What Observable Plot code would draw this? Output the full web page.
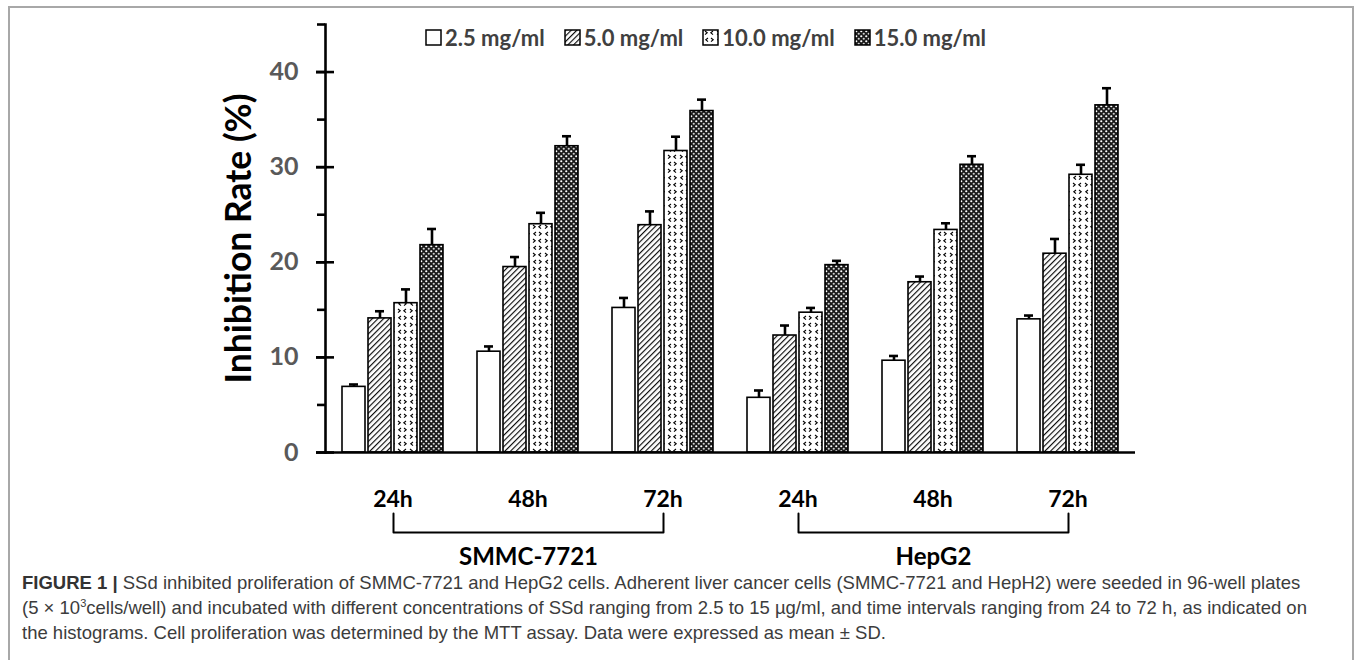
<!DOCTYPE html>
<html>
<head>
<meta charset="utf-8">
<script src="https://cdn.jsdelivr.net/npm/d3@7"></script>
<script src="https://cdn.jsdelivr.net/npm/@observablehq/plot@0.6"></script>
<style>
  html, body { margin: 0; padding: 0; background: #fff; }
  body { width: 1357px; height: 660px; overflow: hidden; position: relative; }
  #frame { position: absolute; left: 8px; top: 6px; width: 1342px; height: 700px; border: 2px solid #a8a8a8; }
  #chart { position: absolute; left: 0; top: 0; }
  #brackets { position: absolute; left: 0; top: 500px; }
  #legend { position: absolute; left: 426px; top: 21px; }
  .lg-swatch { margin-right: 20px !important; }
  .lg-swatch > svg { margin-right: 4px !important; overflow: visible; }
  .lg-swatch > svg rect { stroke: #000; stroke-width: 1.5px; }
  #caption { position: absolute; left: 22px; top: 570px; font-family: "Liberation Sans", Arial, sans-serif; font-size: 18.5px; line-height: 25px; color: #3c3c3c; white-space: nowrap; }
  #caption b { color: #333; }
</style>
</head>
<body>
<svg width="0" height="0" style="position:absolute">
  <defs>
    <pattern id="hatch" patternUnits="userSpaceOnUse" width="4" height="4" patternTransform="rotate(45)">
      <rect width="4" height="4" fill="#fff"/>
      <line x1="0.6" y1="0" x2="0.6" y2="4" stroke="#000" stroke-width="1.1"/>
    </pattern>
    <pattern id="chev" patternUnits="userSpaceOnUse" width="12" height="14">
      <rect width="12" height="14" fill="#fff"/>
      <path d="M2,1 L4.2,2.8 L2,4.6" fill="none" stroke="#000" stroke-width="1.1"/>
      <path d="M10,1 L7.8,2.8 L10,4.6" fill="none" stroke="#000" stroke-width="1.1"/>
      <path d="M5,8 L2.8,9.8 L5,11.6" fill="none" stroke="#000" stroke-width="1.1"/>
      <path d="M8,8 L10.2,9.8 L8,11.6" fill="none" stroke="#000" stroke-width="1.1"/>
    </pattern>
    <pattern id="dense" patternUnits="userSpaceOnUse" width="5" height="5">
      <rect width="5" height="5" fill="#1a1a1a"/>
      <circle cx="1.25" cy="1.25" r="1.1" fill="#fff"/>
      <circle cx="3.75" cy="3.75" r="1.1" fill="#d0d0d0"/>
    </pattern>
  </defs>
</svg>
<div id="frame"></div>
<div id="chart"></div>
<div id="brackets"></div>
<div id="legend"></div>
<div id="caption"><b>FIGURE 1 |</b> SSd inhibited proliferation of SMMC-7721 and HepG2 cells. Adherent liver cancer cells (SMMC-7721 and HepH2) were seeded in 96-well plates<br>(5 × 10<sup style="font-size:11px;line-height:0">3</sup>cells/well) and incubated with different concentrations of SSd ranging from 2.5 to 15 µg/ml, and time intervals ranging from 24 to 72 h, as indicated on<br>the histograms. Cell proliferation was determined by the MTT assay. Data were expressed as mean ± SD.</div>
<script>
// ---- data ----
const cellLines = ["SMMC-7721", "HepG2"];
const times = ["24h", "48h", "72h"];
const concentrations = ["2.5 mg/ml", "5.0 mg/ml", "10.0 mg/ml", "15.0 mg/ml"];
// values per group: SMMC 24h, 48h, 72h, HepG2 24h, 48h, 72h
const mean25 = [6.9, 10.6, 15.2, 5.75, 9.65, 14.0];
const mean50 = [14.1, 19.5, 23.9, 12.3, 17.9, 20.9];
const mean100 = [15.7, 24.0, 31.7, 14.7, 23.4, 29.2];
const mean150 = [21.8, 32.2, 35.9, 19.7, 30.25, 36.5];
const sd25 = [0.25, 0.55, 1.05, 0.77, 0.5, 0.4];
const sd50 = [0.75, 1.05, 1.45, 1.05, 0.6, 1.55];
const sd100 = [1.45, 1.2, 1.5, 0.5, 0.7, 1.05];
const sd150 = [1.7, 1.05, 1.2, 0.45, 0.9, 1.8];
const majorTicks = [0, 10, 20, 30, 40];
const minorTicks = [5, 15, 25, 35, 45];
const patternFills = ["#fff", "url(#hatch)", "url(#chev)", "url(#dense)"];

// ---- derived table ----
const key = (c, t) => c + "|" + t;
const groupKeys = cellLines.flatMap(c => times.map(t => key(c, t)));
const means = [mean25, mean50, mean100, mean150];
const sds = [sd25, sd50, sd100, sd150];
const rows = [];
groupKeys.forEach((g, gi) => {
  concentrations.forEach((conc, ci) => {
    rows.push({group: g, conc, value: means[ci][gi], sd: sds[ci][gi]});
  });
});

const W = 1357;
const ML = 325, MR = 222;
const FONT = "Lato, 'Open Sans', sans-serif";

const chart = Plot.plot({
  width: W, height: 520,
  marginLeft: ML, marginRight: MR, marginTop: 24, marginBottom: 68,
  style: {fontFamily: FONT, background: "transparent", overflow: "visible"},
  fx: {domain: groupKeys, padding: 0, label: null},
  x: {domain: concentrations, paddingInner: 0.105, paddingOuter: 0.624, axis: null},
  y: {domain: [0, 45]},
  color: {type: "ordinal", domain: concentrations, range: patternFills},
  marks: [
    Plot.barY(rows, {fx: "group", x: "conc", y: "value", fill: "conc", stroke: "#000", strokeWidth: 1.6}),
    Plot.ruleX(rows, {fx: "group", x: "conc", y1: "value", y2: d => d.value + d.sd, stroke: "#000", strokeWidth: 2.6}),
    Plot.tickY(rows, {fx: "group", x: "conc", y: d => d.value + d.sd, stroke: "#000", strokeWidth: 2.6, insetLeft: 7, insetRight: 7}),
    Plot.ruleY([0], {stroke: "#000", strokeWidth: 2.6}),
    Plot.frame({anchor: "left", facetAnchor: "left", stroke: "#000", strokeWidth: 2.6}),
    Plot.axisY({ticks: majorTicks, tickSize: 9, tickPadding: 18, fontSize: 25, fontWeight: "bold", fill: "#595959", stroke: "#000", strokeWidth: 2.6, label: null}),
    Plot.axisY({ticks: majorTicks, tickSize: 18, dx: 9, tickFormat: () => "", stroke: "#000", strokeWidth: 2.6, label: null}),
    Plot.axisY({ticks: minorTicks, tickSize: 8, tickFormat: () => "", stroke: "#000", strokeWidth: 2.6, label: null}),
    Plot.axisY({ticks: [], tickSize: 0, label: "Inhibition Rate (%)", labelAnchor: "center", labelArrow: "none", labelOffset: 100, fontSize: 35.5, fontWeight: "bold", fill: "#000"}),
    Plot.axisFx({anchor: "bottom", tickSize: 0, tickPadding: 38, fontSize: 23, fontWeight: "bold", fill: "#000", tickFormat: g => g.split("|")[1], label: null})
  ]
});
document.getElementById("chart").append(chart);

// ---- brackets grouping the time points per cell line ----
const bracketRows = cellLines.flatMap(c => {
  const first = key(c, times[0]), last = key(c, times[times.length - 1]);
  return [{c, g: first, v: 1}, {c, g: first, v: 0}, {c, g: last, v: 0}, {c, g: last, v: 1}];
});
const brackets = Plot.plot({
  width: W, height: 80,
  marginLeft: ML, marginRight: MR, marginTop: 13, marginBottom: 48,
  style: {fontFamily: FONT, background: "transparent", overflow: "visible"},
  x: {type: "point", domain: groupKeys, padding: 0.5, axis: null},
  y: {domain: [0, 1], axis: null},
  marks: [
    Plot.line(bracketRows, {x: "g", y: "v", z: "c", stroke: "#000", strokeWidth: 2}),
    Plot.text(cellLines, {x: c => key(c, times[1]), y: 0, text: d => d, dy: 25, fontSize: 24, fontWeight: "bold", fill: "#000"})
  ]
});
document.getElementById("brackets").append(brackets);

// ---- legend ----
const legend = Plot.legend({
  color: {type: "ordinal", domain: concentrations, range: patternFills},
  swatchSize: 15,
  className: "lg",
  style: {fontFamily: FONT, fontSize: "22px", fontWeight: "bold", color: "#404040"}
});
document.getElementById("legend").append(legend);
</script>
</body>
</html>
